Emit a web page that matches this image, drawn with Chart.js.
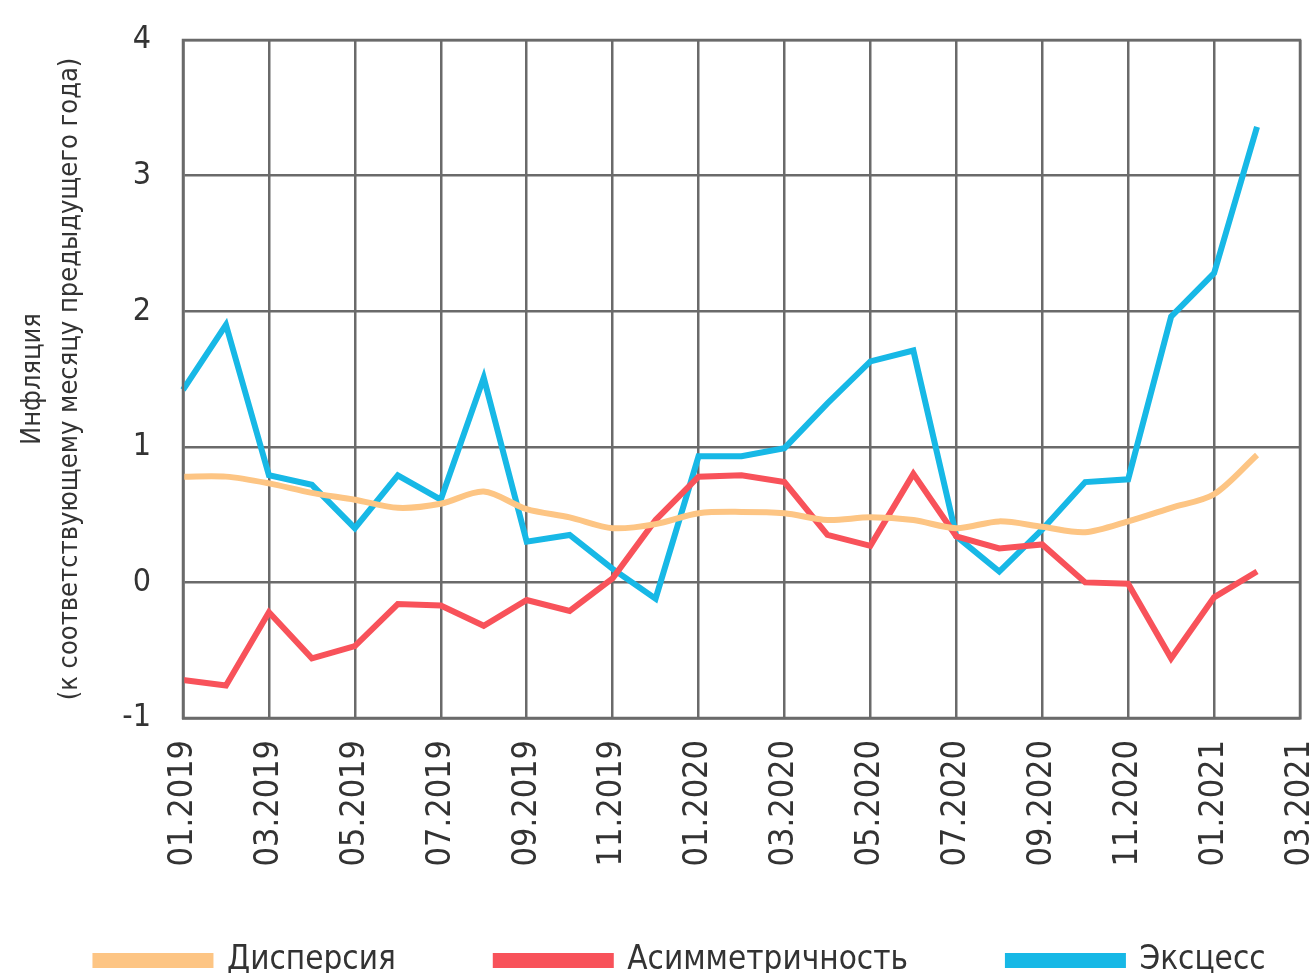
<!DOCTYPE html>
<html>
<head>
<meta charset="utf-8">
<script src="https://cdn.jsdelivr.net/npm/chart.js@4/dist/chart.umd.min.js"></script>
<style>
  html, body { margin: 0; padding: 0; background: #fff; }
</style>
</head>
<body>
<canvas id="chart" width="1315" height="973"></canvas>
<script>
// Месяцы по оси X (метки на каждом втором месяце)
const months = ['01.2019','02.2019','03.2019','04.2019','05.2019','06.2019','07.2019','08.2019','09.2019','10.2019','11.2019','12.2019',
                '01.2020','02.2020','03.2020','04.2020','05.2020','06.2020','07.2020','08.2020','09.2020','10.2020','11.2020','12.2020',
                '01.2021','02.2021','03.2021'];

// Ряды данных
const dispersiya = [0.78, 0.78, 0.73, 0.66, 0.61, 0.55, 0.58, 0.67, 0.54, 0.48, 0.40, 0.43,
                    0.51, 0.52, 0.51, 0.46, 0.48, 0.46, 0.40, 0.45, 0.41, 0.37, 0.45, 0.55, 0.65, 0.94];
const asimmetriya = [-0.72, -0.76, -0.22, -0.56, -0.47, -0.16, -0.17, -0.32, -0.13, -0.21, 0.03, 0.46,
                     0.78, 0.79, 0.74, 0.35, 0.27, 0.80, 0.34, 0.25, 0.28, 0.00, -0.01, -0.56, -0.11, 0.08];
const ekscess = [1.42, 1.90, 0.79, 0.72, 0.40, 0.79, 0.61, 1.51, 0.30, 0.35, 0.10, -0.12,
                 0.93, 0.93, 0.99, 1.32, 1.63, 1.71, 0.34, 0.08, 0.39, 0.74, 0.76, 1.96, 2.28, 3.36];

const yTicks = [-1, 0, 1, 2, 3, 4];

const FONT = "'Liberation Sans Narrow', 'DejaVu Sans Condensed', 'Roboto', sans-serif";
const GRID = '#6a6a6a';
const PLOT_BOTTOM = 718;
const BOTTOM_PAD = -14;
// отрицательные поля, чтобы легенда уместилась в одну строку
const PAD_L = -27, PAD_R = -73;

const ctx = document.getElementById('chart').getContext('2d');
new Chart(ctx, {
    type: 'line',
    data: {
        labels: months,
        datasets: [
            {
                label: 'Дисперсия',
                data: dispersiya,
                borderColor: '#FDC584',
                backgroundColor: '#FDC584',
                borderWidth: 6,
                tension: 0.3
            },
            {
                label: 'Асимметричность',
                data: asimmetriya,
                borderColor: '#F8525A',
                backgroundColor: '#F8525A',
                borderWidth: 6,
                tension: 0
            },
            {
                label: 'Эксцесс',
                data: ekscess,
                borderColor: '#17B8E6',
                backgroundColor: '#17B8E6',
                borderWidth: 6,
                tension: 0
            }
        ]
    },
    options: {
        responsive: false,
        animation: false,
        devicePixelRatio: 1,
        layout: { padding: { left: PAD_L, right: PAD_R, top: 40, bottom: BOTTOM_PAD } },
        elements: { point: { radius: 0 } },
        plugins: {
            tooltip: { enabled: false },
            legend: {
                position: 'bottom',
                labels: {
                    boxWidth: 115,
                    boxHeight: 9,
                    padding: 100,
                    color: '#333',
                    font: { family: FONT, size: 33 }
                }
            }
        },
        scales: {
            x: {
                type: 'category',
                offset: false,
                afterFit: function(scale) {
                    const lg = scale.chart.legend;
                    scale.height = scale.chart.height - PLOT_BOTTOM - BOTTOM_PAD - (lg ? lg.height : 0);
                    scale.paddingRight = 15;
                    scale.paddingLeft = 0;
                    // не обрезать подписи по границе оси
                    scale._computeLabelArea = function() { return undefined; };
                },
                grid: {
                    color: (c) => (c.index % 2 === 0 ? GRID : 'rgba(0,0,0,0)'),
                    lineWidth: 2.5,
                    drawTicks: false
                },
                border: { color: GRID, width: 2.5 },
                ticks: {
                    autoSkip: false,
                    maxRotation: 90,
                    minRotation: 90,
                    padding: 22,
                    color: '#333',
                    font: { family: FONT, size: 34 },
                    callback: function(val, i) { return i % 2 === 0 ? months[i] : ''; }
                }
            },
            y: {
                min: -1,
                max: 4,
                afterFit: function(scale) {
                    scale.width = 183 - PAD_L;
                    scale.paddingTop = 0;
                    scale.paddingBottom = 0;
                },
                afterBuildTicks: function(scale) { scale.ticks = yTicks.map(v => ({ value: v })); },
                grid: { color: GRID, lineWidth: 2.5, drawTicks: false },
                border: { color: GRID, width: 2.5 },
                ticks: {
                    padding: 32,
                    color: '#333',
                    font: { family: FONT, size: 32 }
                },
                title: {
                    display: true,
                    text: ['Инфляция', '(к соответствующему месяцу предыдущего года)'],
                    color: '#333',
                    padding: { top: 15 - PAD_L, bottom: 0 },
                    font: { family: FONT, size: 27, lineHeight: 1.35 }
                }
            }
        }
    },
    plugins: [{
        // рамка вокруг области графика
        id: 'frame',
        afterDraw(chart) {
            const a = chart.chartArea, c = chart.ctx;
            c.save();
            c.strokeStyle = GRID;
            c.lineWidth = 2.5;
            c.strokeRect(a.left, a.top, a.right - a.left, a.bottom - a.top);
            c.restore();
        }
    }]
});
</script>
</body>
</html>
